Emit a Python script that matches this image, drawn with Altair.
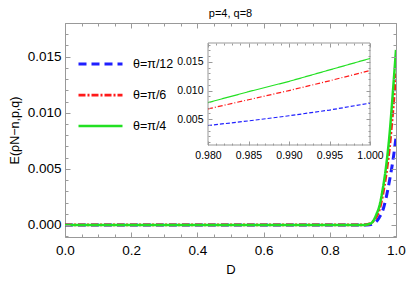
import altair as alt
import pandas as pd

# ---- data ----
thetas = ["θ=π/12", "θ=π/6", "θ=π/4"]
colors = ["#1f1fff", "#ff1a1a", "#22e022"]

D_main = [0.0, 0.1, 0.2, 0.3, 0.4, 0.5, 0.6, 0.7, 0.8, 0.9, 0.92, 0.93, 0.94, 0.95, 0.96, 0.97, 0.98, 0.99, 1.0]
E_blue = [0, 0, 0, 0, 0, 0, 0, 0, 0, 0, 0.00003, 0.0001, 0.0003, 0.0007, 0.0013, 0.0024, 0.0039, 0.0056, 0.0078]
E_red = [0, 0, 0, 0, 0, 0, 0, 0, 0, 0, 0.0001, 0.0003, 0.0007, 0.0014, 0.0027, 0.0045, 0.0068, 0.0100, 0.0135]
E_green = [0, 0, 0, 0, 0, 0, 0, 0, 0, 0, 0.0001, 0.0003, 0.0009, 0.0017, 0.0032, 0.0052, 0.0079, 0.0116, 0.0156]

D_inset = [0.98, 0.985, 0.99, 0.995, 1.0]
I_blue = [0.0039, 0.0047, 0.0056, 0.0066, 0.0078]
I_red = [0.0068, 0.0084, 0.0100, 0.0117, 0.0135]
I_green = [0.0079, 0.0098, 0.0116, 0.0136, 0.0156]

main_x_ticks = [0.0, 0.2, 0.4, 0.6, 0.8, 1.0]
main_x_minor = [0.05, 0.1, 0.15, 0.25, 0.3, 0.35, 0.45, 0.5, 0.55, 0.65, 0.7, 0.75, 0.85, 0.9, 0.95]
main_y_ticks = [0.0, 0.005, 0.010, 0.015]
main_y_minor = [-0.001, 0.001, 0.002, 0.003, 0.004, 0.006, 0.007, 0.008, 0.009,
                0.011, 0.012, 0.013, 0.014, 0.016, 0.017, 0.018]
inset_x_ticks = [0.980, 0.985, 0.990, 0.995, 1.000]
inset_x_minor = [0.981, 0.982, 0.983, 0.984, 0.986, 0.987, 0.988, 0.989, 0.991, 0.992,
                 0.993, 0.994, 0.996, 0.997, 0.998, 0.999]
inset_y_ticks = [0.005, 0.010, 0.015]
inset_y_minor = [0.001, 0.002, 0.003, 0.004, 0.006, 0.007, 0.008, 0.009, 0.011, 0.012,
                 0.013, 0.014, 0.016, 0.017, 0.018]
main_x_domain = [0.0, 1.0]
main_y_domain = [-0.00107, 0.018]
inset_x_domain = [0.98, 1.0]
inset_y_domain = [0.0005, 0.0183]

# ---- tables ----
rows = []
for name, vals in zip(thetas, [E_blue, E_red, E_green]):
    for d, e in zip(D_main, vals):
        rows.append({"D": d, "E": e, "theta": name})
df_main = pd.DataFrame(rows)

rows = []
for name, vals in zip(thetas, [I_blue, I_red, I_green]):
    for d, e in zip(D_inset, vals):
        rows.append({"D": d, "E": e, "series": name})
df_inset = pd.DataFrame(rows)

df_frame = pd.DataFrame({"x0": [inset_x_domain[0]], "x1": [inset_x_domain[1]],
                         "y0": [inset_y_domain[0]], "y1": [inset_y_domain[1]]})

font = "Liberation Sans"
tick_col = "#9a9a9a"
W, H = 331, 214

leg = alt.Legend(title=None, orient="none", legendX=12, legendY=34,
                 symbolType="stroke", symbolSize=1936, symbolStrokeWidth=2.6,
                 clipHeight=14, labelFontSize=12.5, labelFont=font, labelColor="black",
                 rowPadding=17, labelOffset=9)

mx_scale = alt.Scale(domain=main_x_domain, nice=False)
my_scale = alt.Scale(domain=main_y_domain, nice=False)

main = alt.Chart(df_main).mark_line(interpolate="monotone", clip=True).encode(
    x=alt.X("D:Q", scale=mx_scale,
            axis=alt.Axis(values=main_x_ticks, format=".1f", title="D", labelFlush=False,
                          labelFontSize=13.5, titleFontSize=13, titleFontWeight="normal",
                          titlePadding=7, labelPadding=6, ticks=False)),
    y=alt.Y("E:Q", scale=my_scale,
            axis=alt.Axis(values=main_y_ticks, format=".3f", title="E(ρN−n,p,q)",
                          labelFontSize=13.5, titleFontSize=12.5, titleFontWeight="normal",
                          titlePadding=6, labelPadding=4, ticks=False)),
    color=alt.Color("theta:N", sort=thetas, scale=alt.Scale(domain=thetas, range=colors), legend=leg),
    strokeDash=alt.StrokeDash("theta:N", sort=thetas,
                              scale=alt.Scale(domain=thetas, range=[[8, 5], [7, 2, 2, 2], [1, 0]]),
                              legend=leg),
    strokeWidth=alt.StrokeWidth("theta:N", scale=alt.Scale(domain=thetas, range=[3, 2.5, 2]),
                                legend=None),
)


def tick_layer(df, xf, yf, xs, ys, xv, yv, xo, yo, size, xoff, yoff):
    def ax(orient, off, vals):
        return alt.Axis(orient=orient, offset=off, values=vals, labels=False, domain=False,
                        grid=False, ticks=True, tickSize=size, tickColor=tick_col,
                        tickWidth=1, title=None, zindex=1)
    return alt.Chart(df).mark_point(opacity=0).encode(
        x=alt.X(xf, scale=xs, axis=ax(xo, xoff, xv)),
        y=alt.Y(yf, scale=ys, axis=ax(yo, yoff, yv)),
    )


main_ticks = [
    tick_layer(df_main, "D:Q", "E:Q", mx_scale, my_scale, main_x_ticks, main_y_ticks,
               "bottom", "left", 5, -5, -5),
    tick_layer(df_main, "D:Q", "E:Q", mx_scale, my_scale, main_x_ticks, main_y_ticks,
               "top", "right", 5, -5, -5),
    tick_layer(df_main, "D:Q", "E:Q", mx_scale, my_scale, main_x_minor, main_y_minor,
               "bottom", "left", 3, -3, -3),
    tick_layer(df_main, "D:Q", "E:Q", mx_scale, my_scale, main_x_minor, main_y_minor,
               "top", "right", 3, -3, -3),
]

IX0, IX1, IY0, IY1 = 143, 305, 20, 122
ix_scale = alt.Scale(domain=inset_x_domain, range=[IX0, IX1], nice=False)
iy_scale = alt.Scale(domain=inset_y_domain, range=[IY1, IY0], nice=False)
ix_axis = alt.Axis(orient="bottom", offset=-(H - IY1), values=inset_x_ticks, format=".3f", title=None,
                   labelFlush=False, labelFontSize=10.5, domain=False, ticks=False, grid=False,
                   labelPadding=5, labelOverlap=False)
iy_axis = alt.Axis(orient="left", offset=-IX0, values=inset_y_ticks, format=".3f", title=None,
                   labelFontSize=10.5, domain=False, ticks=False, grid=False, labelPadding=5)

frame = alt.Chart(df_frame).mark_rect(fill="white", stroke="#999999", strokeWidth=1).encode(
    x=alt.X("x0:Q", scale=ix_scale, axis=ix_axis),
    x2="x1:Q",
    y=alt.Y("y0:Q", scale=iy_scale, axis=iy_axis),
    y2="y1:Q",
)

inset_lines = alt.Chart(df_inset).mark_line(strokeWidth=1.2).encode(
    x=alt.X("D:Q", scale=ix_scale, axis=ix_axis),
    y=alt.Y("E:Q", scale=iy_scale, axis=iy_axis),
    color=alt.Color("series:N", scale=alt.Scale(domain=thetas, range=colors), legend=None),
    strokeDash=alt.StrokeDash("series:N",
                              scale=alt.Scale(domain=thetas, range=[[4, 2], [5, 2, 1, 2], [1, 0]]),
                              legend=None),
)

inset = alt.layer(frame, inset_lines)

inset_ticks = [
    tick_layer(df_inset, "D:Q", "E:Q", ix_scale, iy_scale, inset_x_ticks, inset_y_ticks,
               "bottom", "left", 4, -(H - IY1) - 4, -IX0 - 4),
    tick_layer(df_inset, "D:Q", "E:Q", ix_scale, iy_scale, inset_x_ticks, inset_y_ticks,
               "top", "right", 4, -IY0 - 4, -(W - IX1) - 4),
    tick_layer(df_inset, "D:Q", "E:Q", ix_scale, iy_scale, inset_x_minor, inset_y_minor,
               "bottom", "left", 2, -(H - IY1) - 2, -IX0 - 2),
    tick_layer(df_inset, "D:Q", "E:Q", ix_scale, iy_scale, inset_x_minor, inset_y_minor,
               "top", "right", 2, -IY0 - 2, -(W - IX1) - 2),
]

chart = alt.layer(main, *main_ticks, inset, *inset_ticks).resolve_scale(
    x="independent", y="independent", color="independent", strokeDash="independent",
    strokeWidth="independent"
).properties(
    width=W, height=H,
    autosize="none",
    padding={"left": 57, "top": 15, "right": 11, "bottom": 39},
    title=alt.TitleParams("p=4, q=8", fontSize=11, fontWeight="normal", font=font,
                          offset=4, color="black"),
).configure_view(stroke="#999999").configure_axis(
    labelFont=font, titleFont=font, labelColor="black", titleColor="black",
    grid=False, domain=False
)

chart.save("out.html", embed_options={"renderer": "svg", "actions": False})
